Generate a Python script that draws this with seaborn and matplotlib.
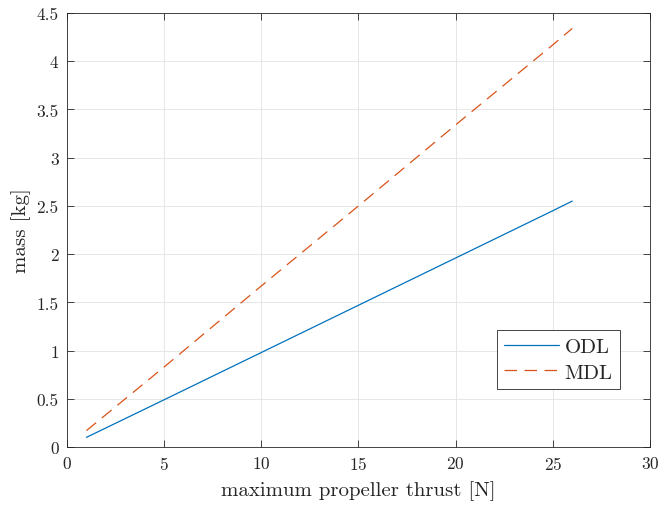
import matplotlib
matplotlib.use("Agg")
import matplotlib.pyplot as plt
import seaborn as sns
import pandas as pd

# thrust [N] and mass [kg] for the two layouts
thrust = [1, 5, 10, 15, 20, 25, 26]
mass_odl = [0.10, 0.49, 0.98, 1.47, 1.96, 2.45, 2.55]
mass_mdl = [0.17, 0.83, 1.67, 2.50, 3.34, 4.17, 4.34]

x_ticks = [0, 5, 10, 15, 20, 25, 30]
y_ticks = [0, 0.5, 1, 1.5, 2, 2.5, 3, 3.5, 4, 4.5]
y_tick_labels = ["0", "0.5", "1", "1.5", "2", "2.5", "3", "3.5", "4", "4.5"]

sns.set_style("ticks")
plt.rcParams["font.family"] = ["cmr10", "DejaVu Serif"]
plt.rcParams["mathtext.fontset"] = "cm"
plt.rcParams["axes.formatter.use_mathtext"] = True

df = pd.DataFrame({
    "thrust": thrust * 2,
    "mass": mass_odl + mass_mdl,
    "layout": ["ODL"] * len(thrust) + ["MDL"] * len(thrust),
})

fig = plt.figure(figsize=(6.58, 5.06), dpi=100)
ax = fig.add_axes([0.1018, 0.1146, 0.886, 0.8577])

sns.lineplot(data=df, x="thrust", y="mass", hue="layout", style="layout",
             palette={"ODL": "#0072BD", "MDL": "#D95319"},
             dashes={"ODL": "", "MDL": (10, 6)},
             linewidth=0.9, ax=ax, legend=False)

h1, = ax.plot([], [], color="#0072BD", lw=0.9, label="ODL")
h2, = ax.plot([], [], color="#D95319", lw=0.9, dashes=(10, 6), label="MDL")

ax.set_xlim(0, 30)
ax.set_ylim(0, 4.5)
ax.set_xticks(x_ticks)
ax.set_yticks(y_ticks)
ax.set_yticklabels(y_tick_labels)
ax.grid(True, color="#e3e3e3", linewidth=0.6)
ax.set_axisbelow(True)

for s in ax.spines.values():
    s.set_visible(True)
    s.set_color("#262626")
    s.set_linewidth(0.6)
ax.tick_params(direction="in", top=True, right=True, length=5, width=0.6,
               color="#262626", labelcolor="#262626", labelsize=12.5, pad=6)

ax.set_xlabel("maximum propeller thrust [N]", fontsize=15, color="#262626", labelpad=6)
ax.set_ylabel("mass [kg]", fontsize=15, color="#262626", labelpad=4)

leg = ax.legend(handles=[h1, h2], loc="lower right", bbox_to_anchor=(0.9485, 0.1336),
                borderaxespad=0, fancybox=False, framealpha=1, edgecolor="#262626",
                fontsize=15, handlelength=2.65, handletextpad=0.25, borderpad=0.35,
                labelspacing=0.35)
leg.get_frame().set_linewidth(0.6)

fig.savefig("out.png", dpi=100)
